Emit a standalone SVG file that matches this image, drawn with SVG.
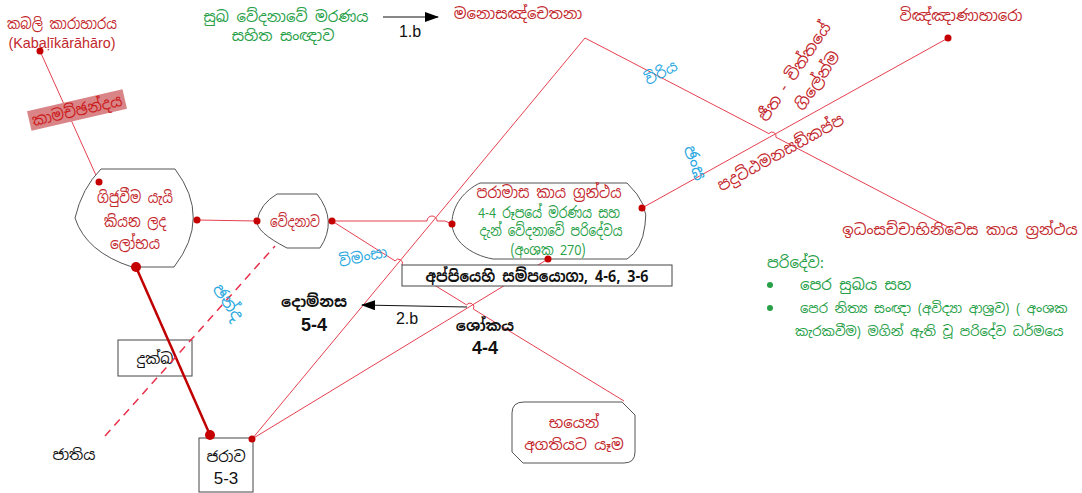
<svg xmlns="http://www.w3.org/2000/svg" width="1082" height="493" viewBox="0 0 1082 493">
<style>
text{font-family:"Noto Sans Sinhala","Iskoola Pota","Noto Sans","Liberation Sans",sans-serif;font-size:15px;text-anchor:middle}
.lat{font-family:"Liberation Sans","Noto Sans",sans-serif}
.r{fill:#c3282d}
.g{fill:#27a048}
.bl{fill:#2aa8e0}
.k{fill:#111}
.bd{font-weight:bold}
.ln{stroke:#e5404f;stroke-width:1;fill:none}
.dot{fill:#c40000}
.sh{fill:#fff;stroke:#555;stroke-width:1}
.bx{fill:none;stroke:#444;stroke-width:1}
</style>
<defs>
<marker id="ah" viewBox="0 0 14 10" refX="13" refY="5" markerWidth="14" markerHeight="10" markerUnits="userSpaceOnUse" orient="auto"><path d="M0,0 L14,5 L0,10 Z" fill="#000"/></marker>
</defs>

<g id="dukkha">
<rect class="bx" x="118" y="340" width="74" height="36"/>
<text class="k" x="155" y="364">දුක්ඛ</text>
</g>

<g id="connectors">
<path class="ln" d="M40,51 L99,182"/>
<path class="ln" d="M197,220 L257,221"/>
<path class="ln" d="M332,221 L427,221 A5,5 0 0 1 437,221 L445,221 L452,224"/>
<path class="ln" d="M332,221 L395.1,260.9 A4,4 0 0 1 401.9,265.1 L466.6,304.9 A4,4 0 0 1 473.4,309.1 L624,401"/>
<path class="ln" d="M252,439 L585,38 L768.9,133.6 A4,4 0 0 1 775.9,137.2 L950,228"/>
<path class="ln" d="M252,439 L548,259"/>
<path class="ln" d="M642,208 L948,38"/>
<path d="M136,267 L210,435" stroke="#c00000" stroke-width="2.5" fill="none"/>
<path d="M105,436 L275,246" stroke="#e8304a" stroke-width="1.5" stroke-dasharray="8 6" fill="none"/>
<path d="M467,307 L362,305" stroke="#111" stroke-width="1" fill="none" marker-end="url(#ah)"/>
<path d="M383,17 L438,17" stroke="#111" stroke-width="1" fill="none" marker-end="url(#ah)"/>
<text class="k lat" x="407" y="324" style="font-size:16px">2.b</text>
<text class="k lat" x="410" y="37" style="font-size:16px">1.b</text>
<text class="bl" x="363" y="262" transform="rotate(-12 363 257)">විමංසා</text>
<text class="bl" x="228" y="308" transform="rotate(55 228 302)" style="font-size:17px">ඡන්ද</text>
<text class="bl" x="661" y="78" transform="rotate(-28 661 73)">විරිය</text>
<text class="bl" x="695" y="169" transform="rotate(70 695 163)" style="font-size:17px">ඡංඝ</text>
</g>

<g id="kabali">
<text class="r" x="62" y="29" style="font-size:15px" textLength="110" lengthAdjust="spacingAndGlyphs">කබලි කාරාහාරය</text>
<text class="r lat" x="62" y="48" style="font-size:15px" textLength="107" lengthAdjust="spacingAndGlyphs">(Kabaḷīkārāhāro)</text>
<circle class="dot" cx="40" cy="51" r="3.5"/>
</g>

<g id="kamacchanda" transform="rotate(-13 77 110)">
<rect x="28" y="100" width="98" height="20" fill="#d98486"/>
<text class="r" x="77" y="116" style="font-size:16px;fill:#cc1a1a" textLength="92" lengthAdjust="spacingAndGlyphs">කාමච්ඡන්දය</text>
</g>

<g id="gijuvima">
<path class="sh" d="M101,169 L175,169 Q212,218 174,267 L132,267 Q86,252 75,218 Q82,188 101,169 Z"/>
<text class="r" x="135" y="203" style="font-size:16px" textLength="76" lengthAdjust="spacingAndGlyphs">ගිජුවීම යැයි</text>
<text class="r" x="135" y="227" style="font-size:16px" textLength="62" lengthAdjust="spacingAndGlyphs">කියන ලද</text>
<text class="r" x="135" y="249" style="font-size:16px" textLength="50" lengthAdjust="spacingAndGlyphs">ලෝභය</text>
<circle class="dot" cx="99" cy="182" r="3.5"/>
<circle class="dot" cx="197" cy="220" r="3.5"/>
<circle class="dot" cx="136" cy="267" r="5"/>
</g>

<g id="vedana">
<path class="sh" d="M277,194 L317,194 Q338,221 320,248 L287,248 Q256,232 257,221 Q260,204 277,194 Z"/>
<text class="r" x="295" y="227" textLength="50" lengthAdjust="spacingAndGlyphs">වේදනාව</text>
<circle class="dot" cx="257" cy="221" r="3.5"/>
<circle class="dot" cx="332" cy="221" r="3.5"/>
</g>

<g id="paramasa">
<path class="sh" d="M480,183 L627,183 Q650,205 645,225 Q642,250 627,259 L493,259 C470,255 452,240 452,223 C452,205 465,190 480,183 Z"/>
<text class="r" x="549" y="198" style="font-size:16px" textLength="145" lengthAdjust="spacingAndGlyphs">පරාමාස කාය ග්‍රන්ථය</text>
<text class="g" x="549" y="218" style="font-size:15px" textLength="142" lengthAdjust="spacingAndGlyphs">4-4 රූපයේ මරණය සහ</text>
<text class="g" x="551" y="236" style="font-size:15px" textLength="143" lengthAdjust="spacingAndGlyphs">දැන් වේදනාවේ පරිදේවය</text>
<text class="g" x="548" y="255" style="font-size:15px" textLength="75" lengthAdjust="spacingAndGlyphs">(අංශක 270)</text>
<circle class="dot" cx="452" cy="224" r="3.5"/>
<circle class="dot" cx="642" cy="208" r="3.5"/>
<circle class="dot" cx="548" cy="259" r="3.5"/>
</g>

<g id="appiyehi">
<rect x="402" y="265" width="270" height="21" fill="#fff" stroke="#444" stroke-width="1"/>
<text class="k bd" x="537" y="282" style="font-size:16px" textLength="223" lengthAdjust="spacingAndGlyphs">අප්පියෙහි සම්පයොගා, 4-6,  3-6</text>
</g>

<g id="domanasa">
<text class="k bd" x="314" y="307">දොම්නස</text>
<text class="k bd lat" x="314" y="331" style="font-size:18px">5-4</text>
</g>

<g id="shoka">
<text class="k bd" x="485" y="331">ශෝකය</text>
<text class="k bd lat" x="485" y="354" style="font-size:18px">4-4</text>
</g>

<g id="jarava">
<rect class="bx" x="199" y="438" width="54" height="54" fill="#fff"/>
<text class="k" x="226" y="462">ජරාව</text>
<text class="k lat" x="226" y="484" style="font-size:17px">5-3</text>
<circle class="dot" cx="210" cy="435" r="5"/>
<circle class="dot" cx="252" cy="439" r="3.5"/>
</g>

<g id="jatiya">
<text class="k" x="74" y="460">ජාතිය</text>
</g>

<g id="bhayen">
<path d="M524,402 L622,402 L635,415 L635,452 Q635,463 624,463 L523,463 L512,452 L512,413 Q512,402 524,402 Z" fill="#fff" stroke="#555" stroke-width="1"/>
<text class="r" x="574" y="428">භයෙන්</text>
<text class="r" x="574" y="450">අගතියට යෑම</text>
</g>

<g id="sukha">
<text class="g" x="286" y="22">සුඛ වේදනාවේ මරණය</text>
<text class="g" x="283" y="41">සහිත සංඥාව</text>
</g>

<g id="manosancetana">
<text class="r" x="518" y="19">මනොසඤ්චෙතනා</text>
</g>

<g id="vinnana">
<text class="r" x="961" y="21">විඤ්ඤාණාහාරො</text>
<circle class="dot" cx="948" cy="38" r="3.5"/>
</g>

<g id="jivita">
<text class="r" x="795" y="77" transform="rotate(-56 795 72)" style="font-size:16px">ජීත - චිත්තයේ</text>
<text class="r" x="818" y="86" transform="rotate(-56 818 81)" style="font-size:16px">ගිලේන්ම</text>
</g>

<g id="padutthamana">
<text class="r" x="781" y="158" transform="rotate(-29 781 153)" style="font-size:16px" textLength="142" lengthAdjust="spacingAndGlyphs">පදුට්ඨමනසඞ්කප්ප</text>
</g>

<g id="idamsacca">
<text class="r" x="960" y="235">ඉධංසච්චාභිනිවෙස කාය ග්‍රන්ථය</text>
</g>

<g id="paridewa">
<text class="g" x="767" y="268" style="text-anchor:start">පරිදේව:</text>
<circle cx="770" cy="285" r="3" fill="#27a048"/>
<text class="g" x="800" y="290" style="text-anchor:start">පෙර සුඛය සහ</text>
<circle cx="770" cy="308" r="3" fill="#27a048"/>
<text class="g" x="800" y="313" style="text-anchor:start;font-size:13.2px">පෙර නිත්‍ය සංඥා (අවිද්‍යා ආශ්‍රව) ( අංශක</text>
<text class="g" x="795" y="336" style="text-anchor:start;font-size:13.2px">කැරකවීම) මගින් ඇති වූ පරිදේව ධර්මයෙ</text>
</g>
</svg>
